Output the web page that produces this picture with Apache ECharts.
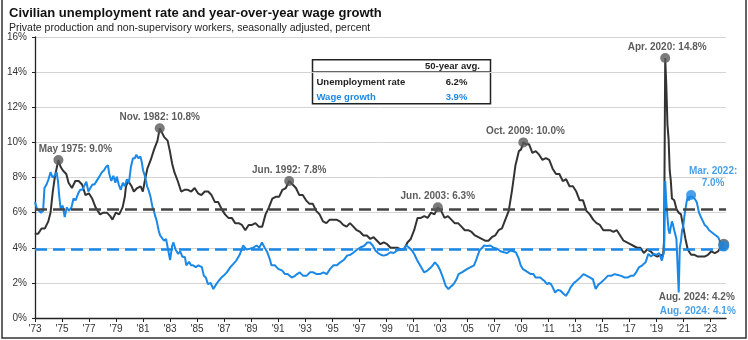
<!DOCTYPE html>
<html><head><meta charset="utf-8">
<script src="https://cdn.jsdelivr.net/npm/echarts@6/dist/echarts.min.js"></script>
<style>html,body{margin:0;padding:0;background:#fff}#c{width:748px;height:340px}</style>
</head><body><div id="c"></div>
<script>
// ---------- DATA ----------
const xTickYears = [1973,1975,1977,1979,1981,1983,1985,1987,1989,1991,1993,1995,1997,1999,2001,2003,2005,2007,2009,2011,2013,2015,2017,2019,2021,2023];

const unempMonths = ['1973-08','1973-11','1974-02','1974-05','1974-08','1974-10','1974-12','1975-02','1975-05','1975-07','1975-09','1975-12',
'1976-02','1976-05','1976-08','1976-11','1977-02','1977-05','1977-08','1977-11','1978-02','1978-06','1978-09','1978-12',
'1979-03','1979-05','1979-08','1979-11','1980-02','1980-04','1980-05','1980-07','1980-10','1980-12','1981-03','1981-06','1981-08','1981-10','1981-12',
'1982-03','1982-06','1982-09','1982-11','1982-12','1983-03','1983-06','1983-08','1983-10','1983-12','1984-03','1984-06','1984-09','1984-12',
'1985-03','1985-06','1985-09','1985-12','1986-03','1986-06','1986-09','1986-12','1987-03','1987-06','1987-09','1987-12',
'1988-03','1988-06','1988-09','1988-12','1989-03','1989-06','1989-09','1989-12','1990-03','1990-06','1990-09','1990-12',
'1991-03','1991-06','1991-09','1991-12','1992-03','1992-06','1992-09','1992-12','1993-03','1993-06','1993-09','1993-12',
'1994-03','1994-06','1994-09','1994-12','1995-03','1995-06','1995-09','1995-12','1996-03','1996-06','1996-09','1996-12',
'1997-03','1997-06','1997-09','1997-12','1998-03','1998-06','1998-09','1998-12','1999-03','1999-06','1999-09','1999-12',
'2000-03','2000-06','2000-09','2000-12','2001-03','2001-06','2001-09','2001-12','2002-03','2002-06','2002-09','2002-12',
'2003-03','2003-06','2003-09','2003-12','2004-03','2004-06','2004-09','2004-12','2005-03','2005-06','2005-09','2005-12',
'2006-03','2006-06','2006-09','2006-12','2007-03','2007-06','2007-09','2007-12','2008-03','2008-06','2008-09','2008-12',
'2009-03','2009-06','2009-08','2009-10','2009-12','2010-03','2010-06','2010-09','2010-12','2011-03','2011-06','2011-09','2011-12',
'2012-03','2012-06','2012-09','2012-12','2013-03','2013-06','2013-09','2013-12','2014-03','2014-06','2014-09','2014-12',
'2015-03','2015-06','2015-09','2015-12','2016-03','2016-06','2016-09','2016-12','2017-03','2017-06','2017-09','2017-12',
'2018-03','2018-06','2018-09','2018-12','2019-03','2019-06','2019-09','2019-12','2020-01','2020-02','2020-03','2020-04',
'2020-05','2020-06','2020-07','2020-08','2020-09','2020-10','2020-12','2021-02','2021-04','2021-06','2021-08','2021-10','2021-12',
'2022-03','2022-06','2022-09','2022-12','2023-03','2023-06','2023-09','2023-12','2024-03','2024-06','2024-07','2024-08'];
const unempRates = [4.8,4.8,5.1,5.1,5.5,6.0,7.2,8.1,9.0,8.6,8.4,8.2,
7.7,7.4,7.8,7.8,7.6,7.0,7.1,6.8,6.3,5.9,6.0,6.0,
5.8,5.6,6.0,5.9,6.3,6.9,7.5,7.8,7.5,7.2,7.4,7.5,7.2,7.9,8.5,
9.0,9.6,10.1,10.8,10.8,10.3,10.1,9.5,8.8,8.3,7.8,7.2,7.3,7.3,
7.2,7.4,7.1,7.0,7.2,7.2,7.0,6.6,6.6,6.2,5.9,5.7,
5.7,5.4,5.4,5.3,5.0,5.3,5.3,5.4,5.2,5.2,5.9,6.3,
6.8,6.9,6.9,7.3,7.4,7.8,7.6,7.4,7.0,7.0,6.7,6.5,
6.5,6.1,5.9,5.5,5.4,5.6,5.6,5.6,5.5,5.3,5.2,5.4,
5.2,5.0,4.9,4.7,4.7,4.5,4.6,4.4,4.2,4.3,4.2,4.0,
4.0,4.0,3.9,3.9,4.3,4.5,5.0,5.7,5.7,5.8,5.7,6.0,
5.9,6.3,6.1,5.7,5.8,5.6,5.4,5.4,5.2,5.0,5.0,4.9,
4.7,4.6,4.5,4.4,4.4,4.6,4.7,5.0,5.1,5.6,6.1,7.3,
8.7,9.5,9.6,10.0,9.9,9.9,9.4,9.5,9.3,9.0,9.1,9.0,8.5,
8.2,8.2,7.8,7.9,7.5,7.5,7.2,6.7,6.7,6.1,5.9,5.6,
5.4,5.3,5.0,5.0,5.0,4.9,5.0,4.7,4.4,4.3,4.2,4.1,
4.0,4.0,3.7,3.9,3.8,3.6,3.5,3.6,3.5,3.5,4.4,14.8,
13.2,11.0,10.2,8.4,7.8,6.8,6.7,6.2,6.0,5.9,5.2,4.5,3.9,
3.6,3.6,3.5,3.5,3.5,3.6,3.8,3.7,3.8,4.1,4.3,4.2];

const wageDates = [1973.6,1973.75,1973.9,1974.05,1974.2,1974.3,1974.45,1974.6,1974.75,1974.9,1975.05,1975.2,1975.3,1975.4,1975.5,1975.65,1975.8,1975.95,
1976.1,1976.3,1976.45,1976.6,1976.8,1976.95,1977.1,1977.3,1977.4,1977.55,1977.7,1977.85,1978.0,1978.2,1978.4,1978.55,1978.7,1978.85,
1979.0,1979.1,1979.25,1979.4,1979.55,1979.65,1979.8,1979.95,1980.1,1980.25,1980.4,1980.55,1980.7,1980.85,1981.0,1981.1,1981.25,1981.4,1981.5,1981.6,1981.75,1981.9,
1982.0,1982.15,1982.3,1982.4,1982.5,1982.6,1982.75,1982.86,1983.0,1983.15,1983.3,1983.45,1983.6,1983.75,1983.85,1984.0,1984.2,1984.35,1984.5,1984.7,1984.8,
1985.0,1985.15,1985.3,1985.5,1985.7,1985.95,1986.1,1986.25,1986.4,1986.6,1986.8,1987.0,1987.2,1987.4,1987.55,1987.8,1988.05,1988.3,1988.5,1988.75,
1989.0,1989.25,1989.5,1989.75,1990.0,1990.2,1990.4,1990.6,1990.8,1991.0,1991.1,1991.35,1991.6,1991.9,1992.1,1992.3,1992.6,1992.85,
1993.0,1993.2,1993.45,1993.7,1993.95,1994.2,1994.45,1994.7,1994.95,1995.2,1995.45,1995.7,1995.95,1996.2,1996.45,1996.7,1996.95,
1997.2,1997.45,1997.7,1997.95,1998.2,1998.4,1998.6,1998.8,1999.0,1999.2,1999.4,1999.65,1999.9,2000.15,2000.4,2000.65,2000.9,
2001.1,2001.3,2001.5,2001.7,2001.9,2002.1,2002.25,2002.4,2002.65,2002.9,2003.05,2003.2,2003.4,2003.6,2003.8,2004.0,2004.2,2004.4,2004.6,2004.8,2004.95,
2005.2,2005.4,2005.6,2005.85,2006.1,2006.3,2006.5,2006.7,2006.85,2007.1,2007.3,2007.55,2007.8,2008.05,2008.3,2008.55,2008.8,
2009.0,2009.2,2009.4,2009.55,2009.7,2009.9,2010.1,2010.3,2010.5,2010.65,2010.8,2011.0,2011.15,2011.3,2011.5,2011.65,2011.8,2011.95,
2012.1,2012.3,2012.5,2012.7,2012.9,2013.1,2013.25,2013.5,2013.7,2013.95,2014.2,2014.45,2014.7,2014.9,2015.1,2015.3,2015.5,2015.75,
2016.0,2016.25,2016.5,2016.75,2017.0,2017.25,2017.45,2017.7,2017.9,2018.1,2018.3,2018.55,2018.8,2019.0,2019.2,2019.4,2019.6,2019.8,
2020.0,2020.08,2020.17,2020.25,2020.33,2020.42,2020.5,2020.58,2020.67,2020.75,2020.83,2020.92,2021.0,2021.08,2021.17,2021.25,2021.33,2021.42,
2021.5,2021.58,2021.67,2021.75,2021.83,2021.92,2022.0,2022.08,2022.17,2022.25,2022.33,2022.42,2022.5,2022.58,2022.67,2022.75,2022.83,2022.92,
2023.0,2023.17,2023.33,2023.5,2023.67,2023.83,2024.0,2024.17,2024.33,2024.42,2024.5,2024.58];
const wageRates = [6.6,6.2,6.1,6.0,6.1,7.4,7.6,7.9,8.3,8.0,8.1,8.3,7.8,6.9,6.2,6.4,5.75,6.3,
6.1,6.3,6.8,6.7,7.1,7.3,7.3,7.6,7.76,7.2,7.4,7.6,7.6,7.85,8.1,8.3,8.4,8.6,
8.7,8.2,7.8,8.1,7.7,8.05,7.6,7.3,7.7,7.5,7.9,7.7,8.6,9.1,9.1,9.3,9.1,9.2,8.9,8.4,8.05,7.5,
7.3,6.9,6.3,6.1,5.8,5.56,5.0,4.7,4.6,4.4,4.5,3.9,3.3,4.1,4.3,3.9,3.65,3.8,3.5,3.46,3.0,
3.2,3.0,3.0,2.9,3.0,2.9,2.4,2.3,1.93,2.0,1.65,1.9,2.12,2.3,2.4,2.6,2.88,3.1,3.27,3.6,
4.13,3.9,3.94,4.0,4.13,4.0,4.3,4.0,3.74,3.3,3.0,3.0,2.8,2.7,2.5,2.5,2.3,2.4,
2.5,2.6,2.4,2.4,2.6,2.6,2.5,2.5,2.6,2.5,2.8,3.0,3.0,3.17,3.3,3.55,3.6,
3.74,3.9,4.03,4.1,4.3,4.3,4.13,3.84,3.7,3.6,3.55,3.6,3.74,3.7,3.84,3.9,3.94,
4.13,4.0,3.84,3.6,3.27,3.0,2.8,2.6,2.7,2.88,3.0,3.17,3.0,2.7,2.3,1.83,1.65,1.8,1.93,2.2,2.5,
2.6,2.7,2.8,2.9,3.0,3.4,3.84,4.0,4.13,4.1,4.13,4.0,3.94,3.8,3.74,3.7,3.84,
3.8,3.74,3.4,3.0,2.8,2.7,2.6,2.5,2.5,2.3,2.3,2.3,2.2,2.12,1.93,2.0,1.93,1.7,
1.45,1.6,1.55,1.4,1.26,1.5,1.74,2.0,2.12,2.3,2.5,2.4,2.3,2.2,1.65,1.9,2.02,2.2,
2.4,2.4,2.5,2.45,2.4,2.3,2.3,2.4,2.4,2.6,2.88,3.0,3.17,3.65,3.5,3.65,3.6,3.7,
3.27,3.3,3.8,7.8,6.6,5.7,5.0,4.8,5.2,5.5,5.3,5.0,5.1,4.5,4.6,1.45,4.0,4.4,
5.0,5.2,5.8,6.2,6.6,6.9,6.7,6.9,7.0,6.9,6.8,6.8,6.7,6.6,6.3,6.0,5.9,5.7,
5.6,5.3,5.2,5.0,4.9,4.8,4.7,4.6,4.3,4.0,4.1,4.1];

const unempPeakMonths = ['1975-05','1982-11','1992-06','2003-06','2009-10','2020-04'];
const unempPeakRates = [9.0,10.8,7.8,6.3,10.0,14.8];
const unempPeakLabels = ['May 1975: 9.0%','Nov. 1982: 10.8%','Jun. 1992: 7.8%','Jun. 2003: 6.3%','Oct. 2009: 10.0%','Apr. 2020: 14.8%'];
const wagePeakMonth = '2022-03';
const wagePeakRate = 7.0;
const wagePeakLabel = 'Mar. 2022:\n7.0%';
const latestMonth = '2024-08';
const latestUnemp = 4.2;
const latestWage = 4.1;
const avgUnemp = 6.2;
const avgWage = 3.9;
const tableHeader = '50-year avg.';
const tableRows = ['Unemployment rate','Wage growth'];

// ---------- HELPERS ----------
const ym = s => { const [y,m] = s.split('-').map(Number); return y + (m-1)/12; };
const TICK_SHIFT = 0.6;
const FONT = '"Liberation Sans", Arial, sans-serif';
const GRAY = '#333333', DOT = '#5a5a5a', BLUE = '#1a88e6';

const unempData = unempMonths.map((m,i) => [ym(m), unempRates[i]]);
const wageData = wageDates.map((d,i) => [d, wageRates[i]]);
const peakOffsets = [[17,0],[0,0],[0,0],[0,0],[2,0],[2,0]];
const peakData = unempPeakMonths.map((m,i) => ({value:[ym(m), unempPeakRates[i]], label:{offset:peakOffsets[i]}}));

const chart = echarts.init(document.getElementById('c'), null, {renderer:'canvas'});
chart.setOption({
  animation:false,
  textStyle:{fontFamily:FONT},
  title:{
    text:'Civilian unemployment rate and year-over-year wage growth',
    subtext:'Private production and non-supervisory workers, seasonally adjusted, percent',
    left:4, top:2, itemGap:3,
    textStyle:{fontSize:13, fontWeight:'bold', color:'#111', fontFamily:FONT},
    subtextStyle:{fontSize:10.5, color:'#222', fontFamily:FONT}
  },
  grid:{left:35, right:22, top:37, bottom:22},
  xAxis:{
    type:'value', min:1973.6, max:2024.75,
    axisLine:{show:true, lineStyle:{color:'#222', width:1.3}},
    axisTick:{show:true, length:4, lineStyle:{color:'#222'}, customValues:xTickYears.map(y=>y+TICK_SHIFT)},
    axisLabel:{customValues:xTickYears.map(y=>y+TICK_SHIFT), fontSize:10, color:'#333', margin:6,
      formatter:v=>"'"+String(Math.round(v-TICK_SHIFT)).slice(2)},
    splitLine:{show:false}
  },
  yAxis:{
    type:'value', min:0, max:16, interval:2,
    axisLine:{show:true, lineStyle:{color:'#222', width:1.3}},
    axisTick:{show:true, length:3, lineStyle:{color:'#222'}},
    axisLabel:{formatter:'{value}%', fontSize:10, color:'#333', margin:8},
    splitLine:{show:true, lineStyle:{color:'#d4d4d4', width:1}}
  },
  graphic:[
    {type:'polyline', silent:true, shape:{points:[[2,0],[2,338],[746,338],[746,0]]}, style:{stroke:'#333', lineWidth:1.5, fill:null}, z:100},
    {type:'group', left:310, top:59, z:50, children:[
      {type:'rect', shape:{x:0,y:0,width:178,height:44}, style:{fill:'#fff', stroke:'#222', lineWidth:1.5}},
      {type:'line', shape:{x1:0,y1:12,x2:178,y2:12}, style:{stroke:'#333', lineWidth:1}},
      {type:'text', x:140, y:7, style:{text:tableHeader, font:'bold 9.5px '+FONT, fill:'#222', align:'center', verticalAlign:'middle'}},
      {type:'text', x:4, y:23, style:{text:tableRows[0], font:'bold 9.5px '+FONT, fill:'#222', align:'left', verticalAlign:'middle'}},
      {type:'text', x:144, y:23, style:{text:avgUnemp.toFixed(1)+'%', font:'bold 9.5px '+FONT, fill:'#222', align:'center', verticalAlign:'middle'}},
      {type:'text', x:4, y:38, style:{text:tableRows[1], font:'bold 9.5px '+FONT, fill:BLUE, align:'left', verticalAlign:'middle'}},
      {type:'text', x:144, y:38, style:{text:avgWage.toFixed(1)+'%', font:'bold 9.5px '+FONT, fill:BLUE, align:'center', verticalAlign:'middle'}}
    ]}
  ],
  series:[
    {type:'line', name:'Unemployment rate', data:unempData, showSymbol:false, z:3,
     lineStyle:{color:GRAY, width:2}, itemStyle:{color:GRAY},
     markLine:{silent:true, symbol:'none', label:{show:false}, lineStyle:{color:'#444', type:[12,6], width:2.5},
       data:[{yAxis:avgUnemp}]}},
    {type:'line', name:'Wage growth', data:wageData, showSymbol:false, z:4,
     lineStyle:{color:BLUE, width:2}, itemStyle:{color:BLUE},
     markLine:{silent:true, symbol:'none', label:{show:false}, lineStyle:{color:BLUE, type:[12,6], width:2.5},
       data:[{yAxis:avgWage}]}},
    {type:'scatter', data:peakData, symbolSize:10, z:6, itemStyle:{color:DOT},
     label:{show:true, position:'top', distance:1, fontSize:10, fontWeight:'bold', color:'#333',
       formatter:p=>unempPeakLabels[p.dataIndex]}},
    {type:'scatter', data:[[ym(wagePeakMonth), wagePeakRate]], symbolSize:10, z:6, itemStyle:{color:BLUE},
     label:{show:true, position:'top', distance:1, offset:[22,0], fontSize:10, fontWeight:'bold', color:BLUE, align:'center', lineHeight:12,
       formatter:()=>wagePeakLabel}},
    {type:'scatter', data:[[ym(latestMonth), latestUnemp]], symbolSize:11, z:7, itemStyle:{color:DOT},
     label:{show:true, position:'inside', offset:[-27,53], fontSize:10, fontWeight:'bold', color:'#333',
       formatter:()=>'Aug. 2024: '+latestUnemp.toFixed(1)+'%'}},
    {type:'scatter', data:[[ym(latestMonth), latestWage]], symbolSize:11, z:8, itemStyle:{color:BLUE},
     label:{show:true, position:'inside', offset:[-26,65], fontSize:10, fontWeight:'bold', color:BLUE,
       formatter:()=>'Aug. 2024: '+latestWage.toFixed(1)+'%'}}
  ]
});
</script></body></html>
